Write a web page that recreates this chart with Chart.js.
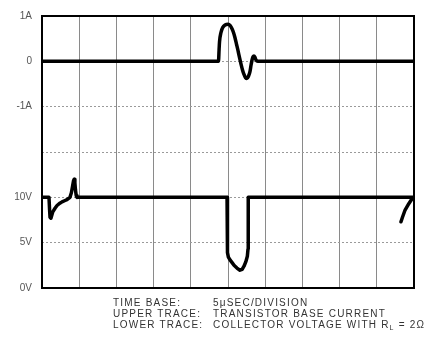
<!DOCTYPE html>
<html><head><meta charset="utf-8">
<script src="https://cdn.jsdelivr.net/npm/chart.js@4"></script>
<style>
html,body{margin:0;padding:0;background:#fff;}
#wrap{position:relative;width:442px;height:342px;overflow:hidden;}
#c{position:absolute;left:0;top:0;}
.cap{position:absolute;left:113px;font:10px "Liberation Sans",Arial,sans-serif;letter-spacing:1.2px;color:#333;white-space:nowrap;line-height:11px;}
.cap .k{display:inline-block;width:100px;}
.cap sub{font-size:7px;vertical-align:-2px;line-height:0;}
</style></head><body>
<div id="wrap"><canvas id="c" width="442" height="342"></canvas>
<div class="cap" style="top:297px"><span class="k">TIME BASE:</span>5μSEC/DIVISION</div>
<div class="cap" style="top:308px"><span class="k">UPPER TRACE:</span>TRANSISTOR BASE CURRENT</div>
<div class="cap" style="top:319px"><span class="k">LOWER TRACE:</span>COLLECTOR VOLTAGE WITH R<sub>L</sub> = 2Ω</div>
</div>
<script>
// time axis: 5 µs per division, 10 divisions
const timeMin = 0, timeMax = 50, timeStep = 5;
// voltage axis (lower trace) 5 V / division, 6 divisions
const voltMin = 0, voltMax = 30, voltStep = 5;
// current axis (upper trace) 1 A / division
const ampMin = -5, ampMax = 1;
const yTickLabels = ['0V', '5V', '10V', '', '-1A', '0', '1A'];

// upper trace: transistor base current (A) vs time (µs)
const upperTime = [0, 23.72, 23.8, 23.86, 24.06, 24.3, 24.6, 25.0, 25.3, 25.54, 25.75, 25.94, 26.14, 26.34, 26.55, 26.75, 26.95, 27.15, 27.35, 27.55, 27.75, 27.96, 28.1, 28.23, 28.36, 28.49, 28.62, 28.76, 29.0, 50];
const upperCurrent = [0, 0, 0.25, 0.43, 0.64, 0.75, 0.8, 0.82, 0.79, 0.72, 0.63, 0.52, 0.38, 0.24, 0.08, -0.06, -0.19, -0.29, -0.36, -0.38, -0.33, -0.22, -0.08, 0.03, 0.1, 0.12, 0.09, 0.03, 0, 0];

// lower trace: collector voltage (V) vs time (µs)
const lowerTime = [0, 0.94, 1.02, 1.08, 1.2, 1.45, 1.75, 2.02, 2.4, 2.69, 3.1, 3.36, 3.76, 3.95, 4.1, 4.23, 4.33, 4.42, 4.5, 4.6, 4.7, 24.87, 24.93, 25.05, 25.27, 25.55, 25.81, 26.2, 26.61, 26.9, 27.15, 27.4, 27.6, 27.69, 27.72, 48.12, 49.87, 49.3, 48.8, 48.45, 48.25];
const lowerVoltage = [10, 10, 8.6, 7.8, 7.7, 8.4, 8.8, 9.1, 9.35, 9.5, 9.65, 9.75, 10.0, 10.5, 11.2, 11.8, 12.0, 11.6, 10.8, 10.2, 10, 10, 3.9, 3.4, 3.1, 2.8, 2.5, 2.2, 1.96, 2.05, 2.4, 2.9, 3.5, 4.3, 10, 10, 10, 9.3, 8.6, 7.8, 7.3];

const upperData = upperTime.map((t, i) => ({x: t, y: upperCurrent[i]}));
const lowerData = lowerTime.map((t, i) => ({x: t, y: lowerVoltage[i]}));

const framePlugin = {
  id: 'frame',
  afterDatasetsDraw(chart) {
    const {ctx, chartArea: a} = chart;
    ctx.save();
    ctx.strokeStyle = '#000';
    ctx.lineWidth = 2;
    ctx.strokeRect(a.left, a.top, a.right - a.left, a.bottom - a.top);
    ctx.restore();
  }
};

new Chart(document.getElementById('c'), {
  type: 'line',
  data: {
    datasets: [
      {label: 'Base current', data: upperData, yAxisID: 'yA', borderColor: '#000', borderWidth: 3.5,
       pointRadius: 0, cubicInterpolationMode: 'monotone', borderCapStyle: 'round', borderJoinStyle: 'round'},
      {label: 'Collector voltage', data: lowerData, yAxisID: 'yV', borderColor: '#000', borderWidth: 3.5,
       pointRadius: 0, tension: 0, borderCapStyle: 'round', borderJoinStyle: 'round'}
    ]
  },
  options: {
    responsive: false,
    animation: false,
    events: [],
    layout: {padding: {left: 0, top: 13, right: 28, bottom: 54}},
    plugins: {legend: {display: false}, tooltip: {enabled: false}},
    scales: {
      x: {
        type: 'linear', min: timeMin, max: timeMax,
        ticks: {stepSize: timeStep, display: false},
        grid: {color: '#8a8a8a', lineWidth: 1, drawTicks: false},
        border: {display: false},
        afterFit(s) { s.height = 0; }
      },
      yV: {
        type: 'linear', position: 'left', min: voltMin, max: voltMax,
        ticks: {stepSize: voltStep, padding: 10, color: '#555',
          font: {family: '"Liberation Sans", Arial, sans-serif', size: 10},
          callback: (v) => yTickLabels[Math.round(v / voltStep)]},
        grid: {color: '#9a9a9a', lineWidth: 1, drawTicks: false},
        border: {display: false, dash: [2, 2]},
        afterFit(s) { s.width = 42; }
      },
      yA: {
        type: 'linear', display: false, min: ampMin, max: ampMax
      }
    }
  },
  plugins: [framePlugin]
});
</script>
</body></html>
